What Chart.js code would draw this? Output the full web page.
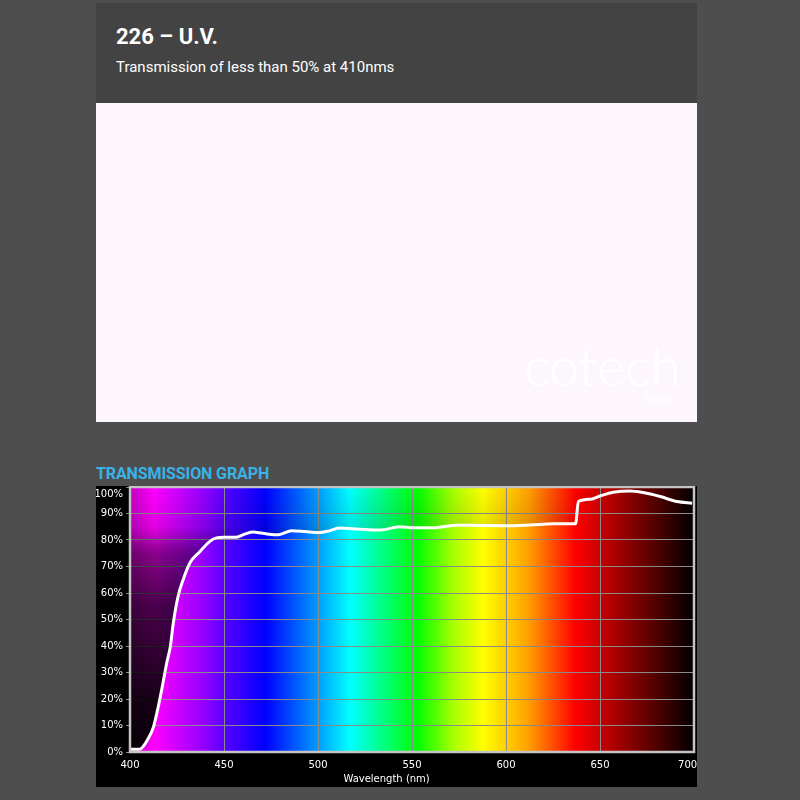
<!DOCTYPE html>
<html>
<head>
<meta charset="utf-8">
<script src="https://cdn.jsdelivr.net/npm/chart.js@4.4.1/dist/chart.umd.min.js"></script>
<style>
  html,body{margin:0;padding:0;background:#4e4e4e;width:800px;height:800px;overflow:hidden;font-family:Roboto,"Noto Sans",sans-serif}
  #head{position:absolute;left:96px;top:3px;width:601px;height:100px;background:#434343}
  #title{position:absolute;left:20px;top:23px;font-size:22px;line-height:22px;font-weight:700;color:#fff;white-space:nowrap}
  #sub{position:absolute;left:20px;top:57px;font-size:15px;line-height:15px;color:#fff;white-space:nowrap}
  #photo{position:absolute;left:96px;top:103px;width:601px;height:319px;background:#fdf7fd}
  #mark{position:absolute;left:428px;top:236px;font-family:Lato,sans-serif;font-weight:300;font-size:54px;line-height:54px;color:#fff}
  #mark2{position:absolute;left:547px;top:289px;font-family:Lato,sans-serif;font-weight:700;font-size:11px;line-height:11px;color:#fff}
  #gtitle{position:absolute;left:96px;top:466px;font-size:16px;line-height:16px;font-weight:700;color:#39b3e6;letter-spacing:-0.1px;white-space:nowrap}
  #panel{position:absolute;left:96px;top:486px;width:601px;height:301px;background:#000}
</style>
</head>
<body>
<div id="head">
  <div id="title">226 – U.V.</div>
  <div id="sub">Transmission of less than 50% at 410nms</div>
</div>
<div id="photo">
  <div id="mark">cotech</div>
  <div id="mark2">filters</div>
</div>
<div id="gtitle">TRANSMISSION GRAPH</div>
<div id="panel"><canvas id="c" width="601" height="301"></canvas></div>
<script>
// transmission curve
const wavelengths=[400,405,410,412.5,415,417,419.5,421.5,423,425.5,428.5,432,437,442.5,446,450,456,461,465.5,470,474,479,486,493,500,505,511.5,522,533,543.5,551,561,574,586,600,613,625,637,638.5,645,650,657,666,673,682,691,699];
const transmission=[1,1,5.5,9.5,17,24,33.5,40,48.5,58.5,65.5,71.5,75.5,79.5,80.8,81,81,82.2,83,82.6,82.2,82,83.5,83.2,82.8,83.3,84.5,84.1,83.8,85,84.6,84.6,85.6,85.5,85.4,85.7,86.1,86.1,94.5,95.4,96.6,98,98.5,97.9,96.4,94.5,93.9];

const xTicks=[400,450,500,550,600,650,700];
const yTicks=[0,10,20,30,40,50,60,70,80,90,100];

// background spectrum colour stops (nm)
const specNm=[400,413,440,452,472,495,517,535,553,572,588,612,637,665,700];
const specColors=['#c400c4','#ff00ff','#9000ff','#5000ff','#0000ff','#0080ff','#00ffff','#00ff80','#00ff00','#a8ff00','#ffff00','#ffa000','#ff0000','#8c0000','#000000'];

const tickFont={family:'"DejaVu Sans",sans-serif',size:10};

const spectrum={
  id:'spectrum',
  beforeDraw(chart){
    const {ctx,chartArea:a,scales:{x}}=chart;
    const g=ctx.createLinearGradient(a.left,0,a.right,0);
    specNm.forEach((nm,i)=>g.addColorStop((x.getPixelForValue(nm)-a.left)/(a.right-a.left),specColors[i]));
    ctx.save();ctx.fillStyle=g;ctx.fillRect(a.left,a.top,a.right-a.left,a.bottom-a.top);ctx.restore();
  },
  afterDraw(chart){
    const {ctx,chartArea:a}=chart;
    ctx.save();ctx.strokeStyle='#c4c4c4';ctx.lineWidth=2.5;
    ctx.strokeRect(a.left,a.top,a.right-a.left,a.bottom-a.top);ctx.restore();
  }
};

function shade(c){
  const a=c.chart.chartArea;
  if(!a)return 'rgba(0,0,0,0.5)';
  const g=c.chart.ctx.createLinearGradient(0,a.top,0,a.bottom);
  g.addColorStop(0,'rgba(0,0,0,0)');
  g.addColorStop(0.15,'rgba(0,0,0,0.1)');
  g.addColorStop(0.25,'rgba(0,0,0,0.45)');
  g.addColorStop(0.45,'rgba(0,0,0,0.7)');
  g.addColorStop(0.8,'rgba(0,0,0,0.9)');
  g.addColorStop(1,'rgba(0,0,0,0.97)');
  return g;
}

new Chart(document.getElementById('c'),{
  type:'line',
  data:{datasets:[{
    data:wavelengths.map((w,i)=>({x:w,y:transmission[i]})),
    borderColor:'#ffffff',borderWidth:3,pointRadius:0,
    cubicInterpolationMode:'monotone',
    fill:'end',backgroundColor:shade
  }]},
  options:{
    responsive:false,animation:false,devicePixelRatio:1,
    layout:{padding:{top:1,right:3,left:0,bottom:0}},
    plugins:{legend:{display:false},tooltip:{enabled:false}},
    scales:{
      x:{type:'linear',min:400,max:700,
        afterBuildTicks:s=>{s.ticks=xTicks.map(v=>({value:v}));},
        afterFit:s=>{s.height=35;s.paddingLeft=0;s.paddingRight=0;},
        grid:{color:'#8a8a8a',lineWidth:1,drawTicks:false},
        border:{display:false},
        ticks:{color:'#fff',font:tickFont,padding:7,maxRotation:0,autoSkip:false,
          callback:v=>v===700?'700    ':String(v)},
        title:{display:true,text:'Wavelength (nm)                ',color:'#fff',font:tickFont,padding:{top:0,bottom:2}}
      },
      y:{min:0,max:100,
        afterBuildTicks:s=>{s.ticks=yTicks.map(v=>({value:v}));},
        afterFit:s=>{s.width=34;s.paddingTop=0;s.paddingBottom=0;},
        grid:{color:'#8a8a8a',lineWidth:1,tickLength:4},
        border:{display:false},
        ticks:{color:'#fff',font:{...tickFont,lineHeight:1.5},padding:3,autoSkip:false,
          callback:v=>v===100?['','100%']:v+'%'}
      }
    }
  },
  plugins:[spectrum]
});
</script>
</body>
</html>
